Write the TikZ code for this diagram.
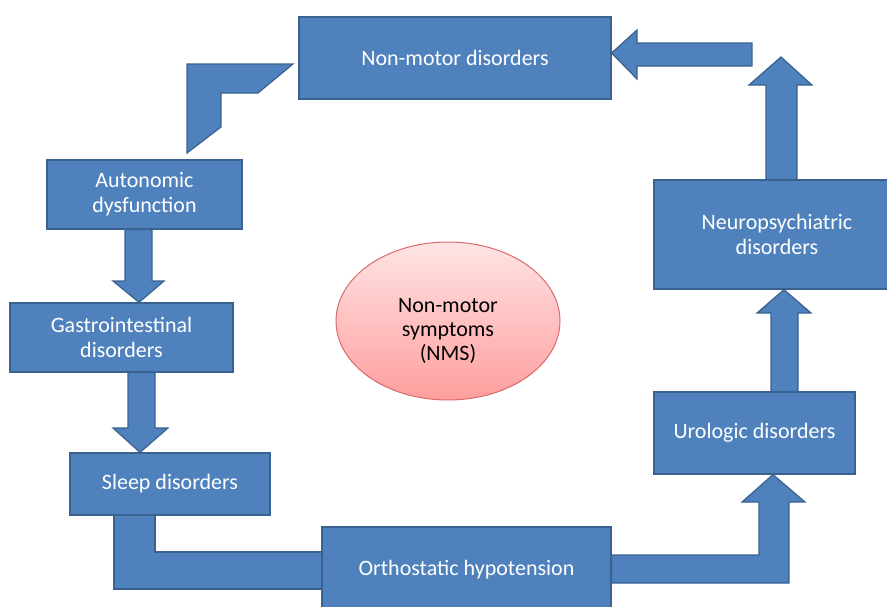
\documentclass[tikz,border=0pt]{standalone}
\usepackage{fontspec}
\setmainfont{Carlito}
\usetikzlibrary{backgrounds,shapes.geometric}
\definecolor{boxblue}{HTML}{4F81BD}
\definecolor{boxedge}{HTML}{3A6290}
\definecolor{pinktop}{HTML}{FFE4E4}
\definecolor{pinkbot}{HTML}{FF9E9E}
\definecolor{pinkedge}{HTML}{D96A6C}
\begin{document}
\begin{tikzpicture}[x=1pt,y=-1pt,
  box/.style={draw=boxedge, fill=boxblue, line width=1.2pt, text=white,
    font=\fontsize{22}{25}\selectfont, align=center, inner sep=0pt},
  blockarrow/.style={draw=boxedge, fill=boxblue, line width=1.2pt, line join=miter}]
\useasboundingbox (0,0) rectangle (887,606);
% boxes
\node[box, minimum width=312pt, minimum height=82pt] (nmd) at (455,58) {Non-motor disorders};
\node[box, minimum width=195pt, minimum height=69pt] (auto) at (144.5,194.5) {Autonomic\\dysfunction};
\node[box, minimum width=223pt, minimum height=69pt] (gastro) at (121.5,337.5) {Gastrointestinal\\disorders};
\node[box, minimum width=200pt, minimum height=62pt] (sleep) at (170,484) {Sleep disorders};
\node[box, minimum width=289pt, minimum height=86pt] (ortho) at (466.5,570) {Orthostatic hypotension};
\node[box, minimum width=201pt, minimum height=82pt] (uro) at (754.5,433) {Urologic disorders};
\node[box, minimum width=246pt, minimum height=109pt] (neuro) at (777,234.5) {Neuropsychiatric\\disorders};
% centre ellipse
\node[ellipse, draw=pinkedge, line width=1pt, top color=pinktop, bottom color=pinkbot,
  minimum width=224pt, minimum height=158pt, inner sep=0pt] (nms) at (448,321) {};
\node[align=center, inner sep=0pt, font=\fontsize{22}{24}\selectfont] (nmstext)
  at ([yshift=-10pt]nms.center) {Non-motor\\symptoms\\(NMS)};
% block arrows
\begin{scope}[on background layer]
  % Autonomic -> Gastrointestinal
  \filldraw[blockarrow] (125,0 |- auto.south) -- (125,281) -- (113,281) -- (139,0 |- gastro.north)
    -- (164,281) -- (152,281) -- (152,0 |- auto.south) -- cycle;
  % Gastrointestinal -> Sleep
  \filldraw[blockarrow] (128,0 |- gastro.south) -- (128,428) -- (113,428) -- (140,0 |- sleep.north)
    -- (168,428) -- (155,428) -- (155,0 |- gastro.south) -- cycle;
  % Sleep -> Orthostatic (elbow)
  \filldraw[blockarrow] (114,0 |- sleep.south) -- (114,589) -- (0,589 -| ortho.west) -- (0,552 -| ortho.west)
    -- (155,552) -- (155,0 |- sleep.south) -- cycle;
  % Orthostatic -> Urologic (elbow arrow)
  \filldraw[blockarrow] (0,555 -| ortho.east) -- (759,555) -- (759,502) -- (742,502) -- (773,0 |- uro.south)
    -- (805,502) -- (789,502) -- (789,583) -- (0,583 -| ortho.east) -- cycle;
  % Urologic -> Neuropsychiatric
  \filldraw[blockarrow] (771,0 |- uro.north) -- (771,313) -- (757,313) -- (784,0 |- neuro.south)
    -- (811,313) -- (798,313) -- (798,0 |- uro.north) -- cycle;
  % Neuropsychiatric -> up
  \filldraw[blockarrow] (766,0 |- neuro.north) -- (766,85) -- (749,85) -- (781,57)
    -- (812,85) -- (797,85) -- (797,0 |- neuro.north) -- cycle;
  % arrow into Non-motor disorders
  \filldraw[blockarrow] (752,43) -- (637,43) -- (637,30) -- (0,53 -| nmd.east) -- (637,79)
    -- (637,66) -- (752,66) -- cycle;
\end{scope}
% bent arrow from Non-motor disorders towards Autonomic dysfunction
\filldraw[blockarrow] (187,64) -- (293,64) -- (258,93) -- (221,93) -- (221,127) -- (187,153) -- cycle;
\end{tikzpicture}
\end{document}
